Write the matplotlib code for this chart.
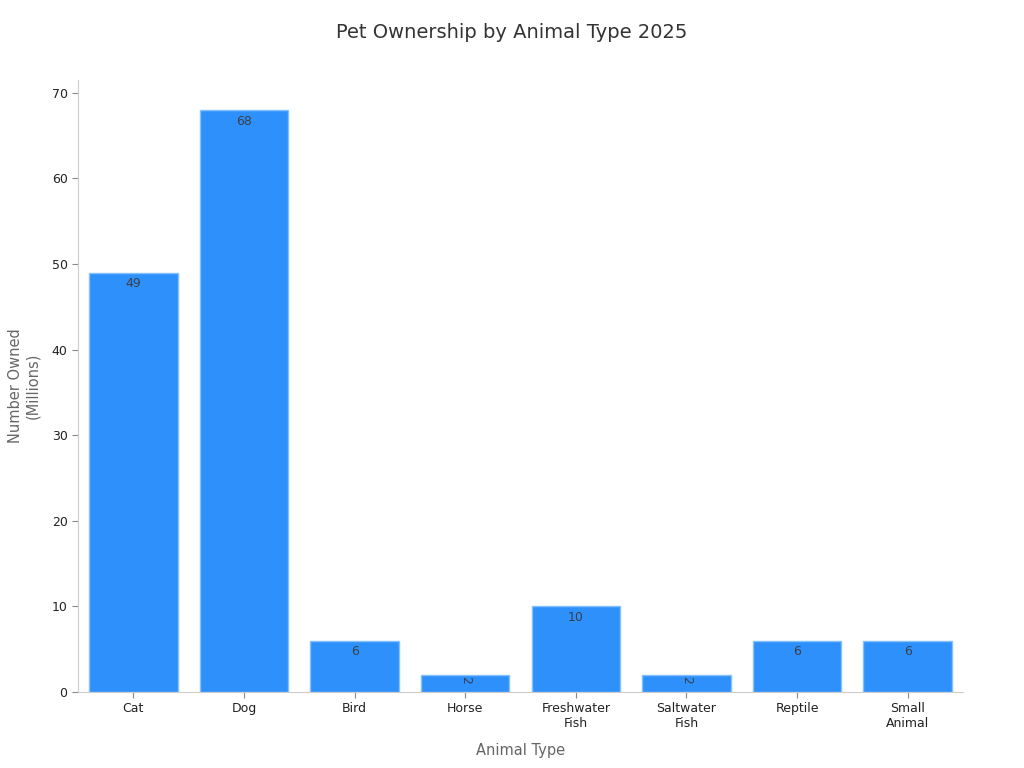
import matplotlib.pyplot as plt

animals = ['Cat', 'Dog', 'Bird', 'Horse', 'Freshwater\nFish', 'Saltwater\nFish', 'Reptile', 'Small\nAnimal']
owned = [49, 68, 6, 2, 10, 2, 6, 6]

fig = plt.figure(figsize=(10.24, 7.68), dpi=100)
ax = fig.add_axes([78/1024, 1-692/768, (963-78)/1024, (692-80)/768])

x = range(len(animals))
bars = ax.bar(x, owned, width=0.8, color='#2e90fa', edgecolor='#84c1fb', linewidth=1)

# value labels sit just inside the top of each bar
for b, v in zip(bars, owned):
    cx = b.get_x() + b.get_width()/2
    if v < 5:
        ax.text(cx, v - 0.15, str(v), ha='center', va='top', rotation=-90,
                fontsize=9, color='#3a3f4a')
    else:
        ax.text(cx, v - 0.55, str(v), ha='center', va='top', fontsize=9, color='#3a3f4a')

ax.set_xlim(-0.5, 7.5)
ax.set_ylim(0, 71.5)
ax.set_yticks(range(0, 71, 10))
ax.set_xticks(list(x))
ax.set_xticklabels(animals, fontsize=9, color='#222222')
ax.tick_params(axis='y', labelsize=9, labelcolor='#222222', color='#888888', length=4)
ax.tick_params(axis='x', color='#888888', length=4)

for s in ['top', 'right']:
    ax.spines[s].set_visible(False)
for s in ['left', 'bottom']:
    ax.spines[s].set_color('#cccccc')

ax.set_xlabel('Animal Type', fontsize=10.5, color='#666666', labelpad=9)
ax.set_ylabel('Number Owned\n(Millions)', fontsize=10.5, color='#666666', labelpad=8)
fig.suptitle('Pet Ownership by Animal Type 2025', fontsize=14, color='#333333', y=1-33/768, va='center')

fig.savefig('out.png', dpi=100)
